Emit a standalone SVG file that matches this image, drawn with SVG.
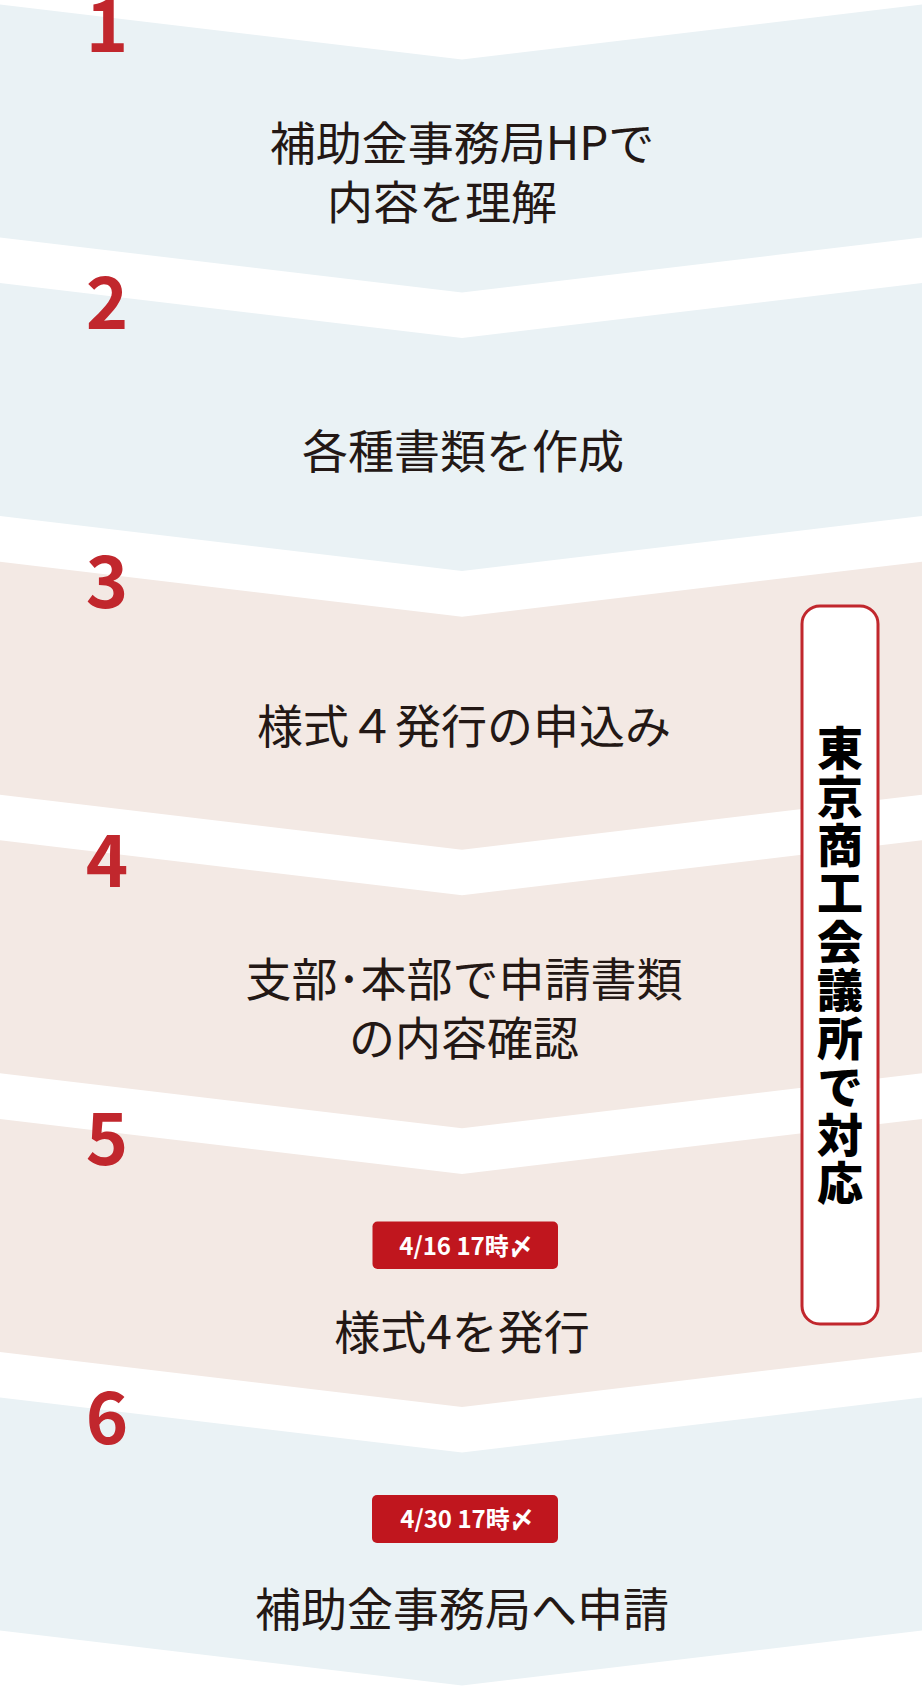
<svg xmlns="http://www.w3.org/2000/svg" xmlns:xlink="http://www.w3.org/1999/xlink" width="922" height="1688" viewBox="0 0 922 1688">
<style>
.blue{fill:#EAF2F5}
.pink{fill:#F3E9E4}
.num{font-family:"Noto Sans CJK JP","Noto Sans",sans-serif;font-weight:700;font-size:72px;fill:#C1272D;text-anchor:middle}
.txt{font-family:"Noto Sans CJK JP","Noto Sans",sans-serif;font-weight:400;font-size:46px;fill:#231815;text-anchor:middle}
.badge{fill:#C0161E}
.btxt{font-family:"Noto Sans CJK JP","Noto Sans",sans-serif;font-weight:700;font-size:24px;fill:#FFFFFF;text-anchor:middle}
.side{fill:#FFFFFF;stroke:#C1272D;stroke-width:3}
.vt{font-family:"Noto Sans CJK JP","Noto Sans",sans-serif;font-weight:900;font-size:46px;fill:#000000;writing-mode:vertical-rl;letter-spacing:2.3px}
</style>
<defs>
<path id="chev" d="M0,0 L462,55 L922,0 L922,233 L462,288 L0,233 Z"/>
</defs>
<rect width="922" height="1688" fill="#FFFFFF"/>
<g id="step1">
<use xlink:href="#chev" href="#chev" class="blue" transform="translate(0,4.5)"/>
<text class="num" x="107" y="52">1</text>
<text class="txt" x="462" y="160">補助金事務局HPで</text>
<text class="txt" x="442" y="219">内容を理解</text>
</g>
<g id="step2">
<use xlink:href="#chev" href="#chev" class="blue" transform="translate(0,283.1)"/>
<text class="num" x="107" y="329">2</text>
<text class="txt" x="463" y="468">各種書類を作成</text>
</g>
<g id="step3">
<use xlink:href="#chev" href="#chev" class="pink" transform="translate(0,561.7)"/>
<text class="num" x="107" y="608">3</text>
<text class="txt" x="464" y="743">様式４発行の申込み</text>
</g>
<g id="step4">
<use xlink:href="#chev" href="#chev" class="pink" transform="translate(0,840.3)"/>
<text class="num" x="107" y="887">4</text>
<text class="txt" x="464" y="996">支部･本部で申請書類</text>
<text class="txt" x="464" y="1055">の内容確認</text>
</g>
<g id="step5">
<use xlink:href="#chev" href="#chev" class="pink" transform="translate(0,1118.9)"/>
<text class="num" x="107" y="1165">5</text>
<rect class="badge" x="372.5" y="1221.5" width="185.5" height="47.5" rx="5"/>
<text class="btxt" x="466" y="1255">4/16 17時〆</text>
<text class="txt" x="462" y="1349">様式4を発行</text>
</g>
<g id="step6">
<use xlink:href="#chev" href="#chev" class="blue" transform="translate(0,1397.5)"/>
<text class="num" x="107" y="1444">6</text>
<rect class="badge" x="372" y="1495" width="186" height="48" rx="5"/>
<text class="btxt" x="467" y="1528">4/30 17時〆</text>
<text class="txt" x="462" y="1626">補助金事務局へ申請</text>
</g>
<g id="tokyo-cci">
<rect class="side" x="802" y="606" width="76" height="718" rx="18"/>
<text class="vt" x="840" y="725">東京商工会議所で対応</text>
</g>
<g id="connectors"/>
</svg>
